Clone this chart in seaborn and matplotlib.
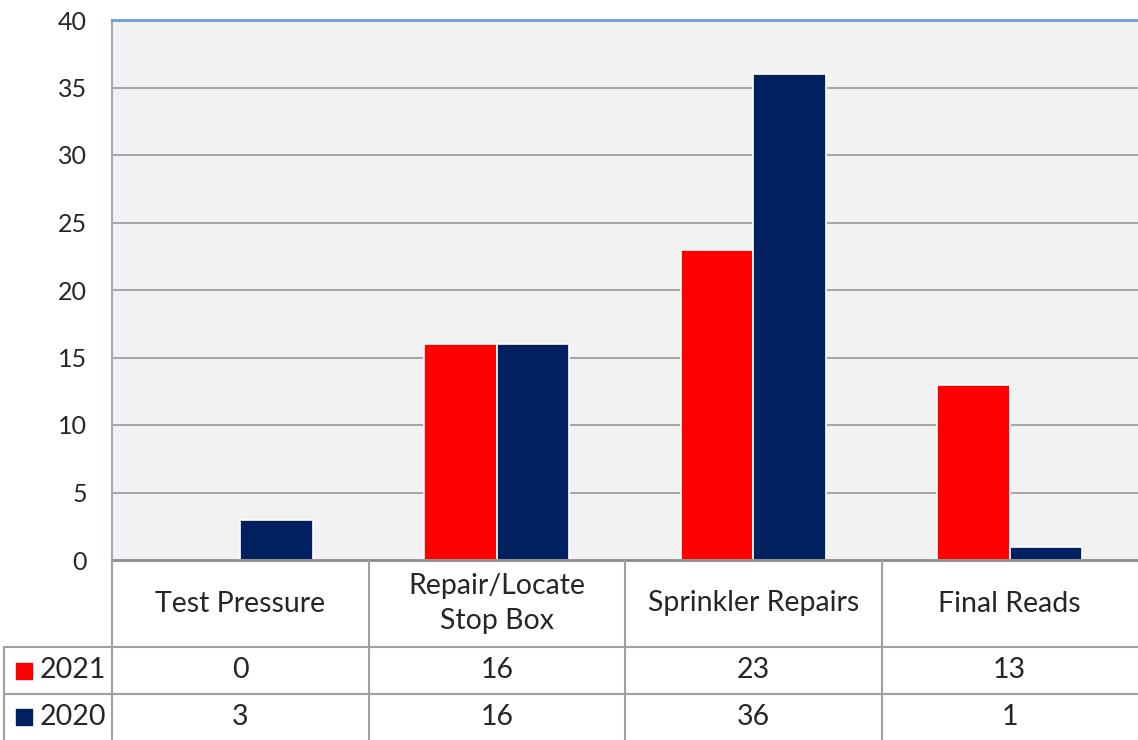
import pandas as pd
import matplotlib
matplotlib.use('Agg')
import matplotlib.pyplot as plt
import seaborn as sns

# data
categories = ['Test Pressure', 'Repair/Locate\nStop Box', 'Sprinkler Repairs', 'Final Reads']
years = ['2021', '2020']
vals_2021 = [0, 16, 23, 13]
vals_2020 = [3, 16, 36, 1]
colors = {'2021': '#FF0000', '2020': '#002060'}
yticks = [0, 5, 10, 15, 20, 25, 30, 35, 40]

df = pd.DataFrame({
    'cat': categories * 2,
    'year': ['2021'] * 4 + ['2020'] * 4,
    'val': vals_2021 + vals_2020,
})

sns.set_style('white')
plt.rcParams['font.family'] = ['Lato', 'DejaVu Sans']

W, H = 1138, 740
fig = plt.figure(figsize=(W / 100, H / 100), dpi=100)
left, right, top, bot = 112, 1138, 20, 560
ax = fig.add_axes([left / W, (H - bot) / H, (right - left) / W, (bot - top) / H])

sns.barplot(data=df, x='cat', y='val', hue='year', hue_order=years, order=categories,
            palette=colors, width=0.566, edgecolor='white', linewidth=1.2,
            saturation=1, ax=ax, legend=False)

ax.set_facecolor('#F2F2F2')
ax.set_xlim(-0.5, len(categories) - 0.5)
ax.set_ylim(0, 40)
ax.set_yticks(yticks)
ax.set_xticks([])
ax.set_xlabel('')
ax.set_ylabel('')
ax.tick_params(axis='y', length=0, pad=18, labelsize=18)
for t in yticks[1:-1]:
    ax.axhline(t, color='#A0A0A0', lw=1.3, zorder=0.5)
ax.spines['top'].set_color('#6A9FD8')
ax.spines['top'].set_linewidth(2)
ax.spines['left'].set_color('#9AAAC0')
ax.spines['left'].set_linewidth(1.5)
ax.spines['bottom'].set_color('#8C8C8C')
ax.spines['bottom'].set_linewidth(2)
ax.spines['right'].set_visible(False)

# data table below the plot, sharing x positions with the bars
tab = fig.add_axes([left / W, 0, (right - left) / W, (H - bot) / H], sharex=ax)
tab.set_ylim(H - bot, 0)
tab.axis('off')
px = (len(categories)) / (right - left)  # data units per pixel
x_leg = -0.5 - (left - 4) * px
x_end = len(categories) - 0.5
lc = '#A0A0A0'
r1, r2 = 87, 134
kw = dict(color=lc, lw=1.5, clip_on=False)
tab.plot([x_leg, x_end], [r1, r1], **kw)
tab.plot([x_leg, x_end], [r2, r2], **kw)
tab.plot([x_leg, x_leg], [r1, H - bot], **kw)
for i in range(len(categories)):
    tab.plot([i - 0.5, i - 0.5], [0, H - bot], **kw)

fs = 20.5
for i, c in enumerate(categories):
    tab.text(i, r1 / 2, c, ha='center', va='center', fontsize=fs, linespacing=1.45)
    tab.text(i, (r1 + r2) / 2, str(vals_2021[i]), ha='center', va='center', fontsize=fs)
    tab.text(i, (r2 + H - bot) / 2, str(vals_2020[i]), ha='center', va='center', fontsize=fs)

for yr, yc in zip(years, [(r1 + r2) / 2, (r2 + H - bot) / 2]):
    tab.scatter([x_leg + 20 * px], [yc], marker='s', s=125, color=colors[yr], clip_on=False)
    tab.text(x_leg + 36 * px, yc, yr, ha='left', va='center', fontsize=fs, clip_on=False)

fig.savefig('out.png', dpi=100)
